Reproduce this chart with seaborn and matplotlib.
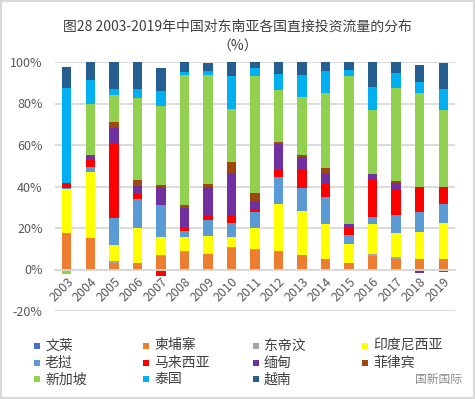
import numpy as np
import pandas as pd
import matplotlib
matplotlib.use("Agg")
import matplotlib.pyplot as plt
import seaborn as sb
from matplotlib.patches import Rectangle

# dados (% do fluxo de IDE da China por pais)
years = [str(y) for y in range(2003, 2020)]
countries = ["文莱", "柬埔寨", "东帝汶", "印度尼西亚", "老挝", "马来西亚",
             "缅甸", "菲律宾", "新加坡", "泰国", "越南"]
colors = ["#4472C4", "#ED7D31", "#A5A5A5", "#FFFF00", "#5B9BD5", "#FF0000",
          "#7030A0", "#9E480E", "#92D050", "#00B0F0", "#255E91"]

brunei      = [0, 0, 0, 0, 0, 0, 0, 0, 0, 0, 0, 0, 0, 0, 0, 0, 0]
cambodia    = [17.8, 15.4, 3.2, 3.0, 6.3, 8.2, 7.7, 10.3, 9.3, 8.7, 6.9, 5.3, 2.9, 6.3, 5.3, 5.3, 5.3]
timor       = [0, 0, 1.1, 0, 0.6, 0.6, 0, 0.5, 0.5, 0, 0, 0, 0, 1.4, 0.5, 0, 0]
indonesia   = [21.1, 31.7, 7.7, 17.2, 9.0, 6.7, 8.6, 4.7, 10.0, 22.7, 21.5, 16.4, 9.6, 14.0, 11.6, 13.0, 16.9]
laos        = [0.6, 2.1, 13.0, 13.9, 15.4, 3.0, 7.7, 6.8, 7.7, 13.0, 10.8, 13.0, 3.9, 3.4, 8.7, 9.2, 9.2]
malaysia    = [2.1, 3.7, 35.9, 2.4, -2.9, 1.4, 1.9, 3.9, 1.4, 3.5, 8.7, 6.8, 3.7, 17.8, 12.5, 12.1, 8.2]
myanmar     = [0, 1.9, 7.4, 3.9, 8.6, 9.9, 14.1, 20.3, 3.9, 12.5, 6.1, 4.5, 1.6, 2.9, 2.9, -1.6, 0]
philippines = [0, 0.5, 2.9, 2.9, 0.8, 1.3, 1.3, 5.3, 4.3, 1.0, 1.0, 2.9, 0, 0, 1.0, 0.4, -1.1]
singapore   = [-2.4, 24.5, 12.9, 39.4, 38.1, 62.5, 52.4, 25.6, 56.0, 24.9, 28.0, 36.0, 71.4, 30.9, 44.9, 44.9, 37.1]
thailand    = [45.8, 11.5, 2.9, 4.3, 7.3, 1.4, 1.9, 15.9, 3.9, 7.7, 10.6, 10.6, 2.9, 11.1, 7.2, 5.3, 10.1]
vietnam     = [10.1, 8.7, 13.0, 13.0, 11.0, 4.8, 3.8, 6.8, 2.9, 5.8, 6.3, 4.3, 3.9, 12.0, 5.3, 8.2, 12.5]

values = [brunei, cambodia, timor, indonesia, laos, malaysia,
          myanmar, philippines, singapore, thailand, vietnam]

df = pd.DataFrame(dict(zip(countries, values)), index=years)
# empilhamento: positivos para cima, negativos para baixo
pos = df.clip(lower=0).cumsum(axis=1)
neg = df.clip(upper=0).cumsum(axis=1)
tops = pos.where(df > 0, neg.where(df < 0, 0))

sb.set_style("white")
plt.rcParams['font.family'] = ['Noto Sans CJK SC', 'DejaVu Sans']

W, H = 475, 399
fig = plt.figure(figsize=(W/100, H/100), dpi=100)
ax = fig.add_axes([55/W, 1-311/H, 400/W, 249/H])

# desenha do topo para a base, cada camada cobre a anterior
for name, col in reversed(list(zip(countries, colors))):
    sb.barplot(x=years, y=tops[name].values, order=years, color=col,
               saturation=1, width=0.4, linewidth=0, errorbar=None, ax=ax)

ax.set_xlim(-0.5, 16.5)
ax.set_ylim(-20, 100)
ax.set_yticks(range(-20, 101, 20))
ax.set_yticklabels([f"{v}%" for v in range(-20, 101, 20)])
ax.yaxis.grid(True, color="#D9D9D9", linewidth=1.3)
ax.set_axisbelow(True)
ax.set_xlabel("")
ax.set_ylabel("")

for s in ["top", "right", "left"]:
    ax.spines[s].set_visible(False)
ax.spines["bottom"].set_position(("data", 0))
ax.spines["bottom"].set_color("#D9D9D9")
ax.spines["bottom"].set_linewidth(1.3)

ax.set_xticks(np.arange(-0.5, 17, 1), minor=True)
ax.tick_params(axis="x", which="minor", length=4, width=1, color="#D9D9D9")
ax.tick_params(axis="x", which="major", length=0, pad=4, labelsize=9, labelcolor="#595959")
ax.tick_params(axis="y", length=0, pad=9, labelsize=9, labelcolor="#595959")
plt.setp(ax.get_xticklabels(), rotation=45, ha="right", va="top", rotation_mode="anchor")

fig.text(0.5, 1-27/H, "图28 2003-2019年中国对东南亚各国直接投资流量的分布",
         ha="center", va="center", fontsize=10, color="#404040")
fig.text(0.5, 1-47/H, "（%）", ha="center", va="center", fontsize=10, color="#404040")

# legenda manual em 4 colunas
col_x = [34, 143, 253, 362]
row_y = [345.5, 362.7, 379.3]
for i, (name, col) in enumerate(zip(countries, colors)):
    x, y = col_x[i % 4], row_y[i // 4]
    fig.add_artist(Rectangle((x/W, 1-(y+3)/H), 6/W, 6/H, transform=fig.transFigure,
                             color=col, linewidth=0))
    fig.text((x+11)/W, 1-y/H, name, ha="left", va="center", fontsize=10, color="#404040")

fig.text(462/W, 1-379/H, "国新国际", ha="right", va="center", fontsize=8.5, color="#8C8C8C")
fig.add_artist(Rectangle((0, 0), 1, 1, transform=fig.transFigure, fill=False,
                         edgecolor="#D9D9D9", linewidth=3))

fig.savefig("out.png", dpi=100)
